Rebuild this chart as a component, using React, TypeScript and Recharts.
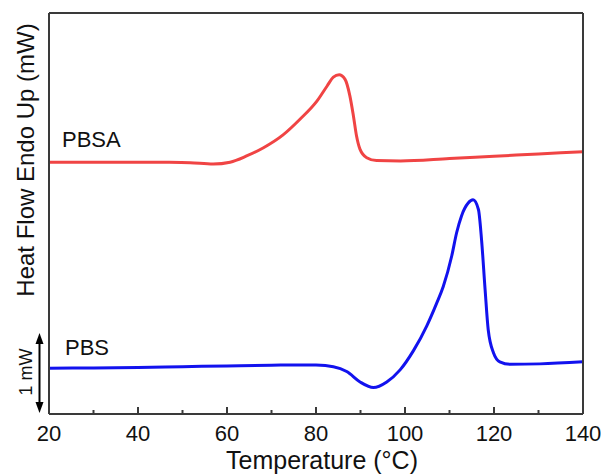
import React from "react";
import { LineChart, Line, XAxis, YAxis } from "recharts";

// PBSA trace (upper, red)
const pbsaTemp = [20, 30, 40, 47, 51.7, 56.9, 60.7, 64.4, 68.2, 72.6, 76.4, 80.2, 82.5, 83.9, 85.2, 86.5, 87.6, 88.4, 89.1, 89.9, 91.4, 93.6, 99, 110, 120, 130, 140];
const pbsaHeat = [3.14, 3.14, 3.14, 3.138, 3.133, 3.117, 3.14, 3.217, 3.32, 3.48, 3.675, 3.9, 4.09, 4.2, 4.23, 4.175, 3.97, 3.72, 3.47, 3.3, 3.196, 3.16, 3.156, 3.186, 3.214, 3.242, 3.27];

// PBS trace (lower, blue)
const pbsTemp = [20, 30, 40, 50, 60, 70, 76.4, 80, 83.9, 86.9, 89.9, 92.9, 95.9, 98.9, 101.9, 104.9, 107.1, 108.6, 110.5, 111.6, 112.7, 114.2, 115.3, 116.5, 117.2, 118, 118.7, 119.9, 121.3, 123.6, 130.3, 140];
const pbsHeat = [0.571, 0.575, 0.58, 0.59, 0.6, 0.608, 0.6125, 0.61, 0.59, 0.53, 0.4, 0.33, 0.4, 0.55, 0.79, 1.1, 1.38, 1.59, 1.97, 2.26, 2.47, 2.63, 2.67, 2.55, 2.175, 1.55, 1.05, 0.76, 0.65, 0.62, 0.625, 0.65];

const xTicks = [20, 30, 40, 50, 60, 70, 80, 90, 100, 110, 120, 130, 140];
const yTicks = [1, 2, 3, 4];

const pbsaData = pbsaTemp.map((t, i) => ({ t, v: pbsaHeat[i] }));
const pbsData = pbsTemp.map((t, i) => ({ t, v: pbsHeat[i] }));

const AXIS = "#3a3a3a";
const FONT = "'Liberation Sans', Arial, sans-serif";

const BottomTick = (props: any) => {
  const { x, y, payload } = props;
  const major = payload.value % 20 === 0;
  return (
    <g>
      <line x1={x} x2={x} y1={y} y2={y - (major ? 7 : 4)} stroke={AXIS} strokeWidth={2} />
      {major && (
        <text x={x} y={y + 27} textAnchor="middle" fontSize={22} fontFamily={FONT} fill="#111">
          {payload.value}
        </text>
      )}
    </g>
  );
};

const TopTick = (props: any) => {
  const { x, y, payload } = props;
  const major = payload.value % 20 === 0;
  return <line x1={x} x2={x} y1={y} y2={y + (major ? 7 : 4)} stroke={AXIS} strokeWidth={2} />;
};

export default function App() {
  return (
    <div style={{ position: "absolute", left: 0, top: 0, background: "#fff" }}>
      <LineChart width={601} height={474} margin={{ top: 12, right: 17, bottom: 59, left: 48 }}>
        <XAxis
          xAxisId="b"
          type="number"
          dataKey="t"
          domain={[20, 140]}
          ticks={xTicks}
          interval={0}
          height={1}
          tickSize={0}
          tickMargin={0}
          tickLine={false}
          tick={<BottomTick />}
          axisLine={{ stroke: AXIS, strokeWidth: 2 }}
        />
        <XAxis
          xAxisId="top"
          orientation="top"
          type="number"
          domain={[20, 140]}
          ticks={xTicks}
          interval={0}
          height={1}
          tickSize={0}
          tickMargin={0}
          tickLine={false}
          tick={<TopTick />}
          axisLine={{ stroke: AXIS, strokeWidth: 2 }}
        />
        <YAxis
          yAxisId="l"
          type="number"
          domain={[0, 5]}
          ticks={yTicks}
          interval={0}
          width={1}
          tickSize={-7}
          tick={false}
          tickLine={{ stroke: AXIS, strokeWidth: 2 }}
          axisLine={{ stroke: AXIS, strokeWidth: 2 }}
        />
        <YAxis
          yAxisId="r"
          orientation="right"
          type="number"
          domain={[0, 5]}
          ticks={yTicks}
          interval={0}
          width={1}
          tickSize={-7}
          tick={false}
          tickLine={{ stroke: AXIS, strokeWidth: 2 }}
          axisLine={{ stroke: AXIS, strokeWidth: 2 }}
        />
        <Line
          xAxisId="b"
          yAxisId="l"
          data={pbsaData}
          dataKey="v"
          type="monotone"
          stroke="#F04444"
          strokeWidth={3}
          dot={false}
          isAnimationActive={false}
        />
        <Line
          xAxisId="b"
          yAxisId="l"
          data={pbsData}
          dataKey="v"
          type="monotone"
          stroke="#1212EE"
          strokeWidth={3}
          dot={false}
          isAnimationActive={false}
        />
        <text x={62} y={147} fontSize={22} fontFamily={FONT} fill="#111">PBSA</text>
        <text x={65} y={355} fontSize={22} fontFamily={FONT} fill="#111">PBS</text>
        <text x={322} y={469} fontSize={25} fontFamily={FONT} fill="#111" textAnchor="middle">
          Temperature (°C)
        </text>
        <text
          x={34}
          y={160}
          fontSize={24}
          fontFamily={FONT}
          fill="#111"
          textAnchor="middle"
          transform="rotate(-90, 34, 160)"
        >
          Heat Flow Endo Up (mW)
        </text>
        <text
          x={32}
          y={372}
          fontSize={18}
          fontFamily={FONT}
          fill="#111"
          textAnchor="middle"
          transform="rotate(-90, 32, 372)"
        >
          1 mW
        </text>
        <line x1={39.5} x2={39.5} y1={340} y2={406} stroke="#000" strokeWidth={2} />
        <polygon points="39.5,333 35.5,344 43.5,344" fill="#000" />
        <polygon points="39.5,413 35.5,402 43.5,402" fill="#000" />
      </LineChart>
    </div>
  );
}
